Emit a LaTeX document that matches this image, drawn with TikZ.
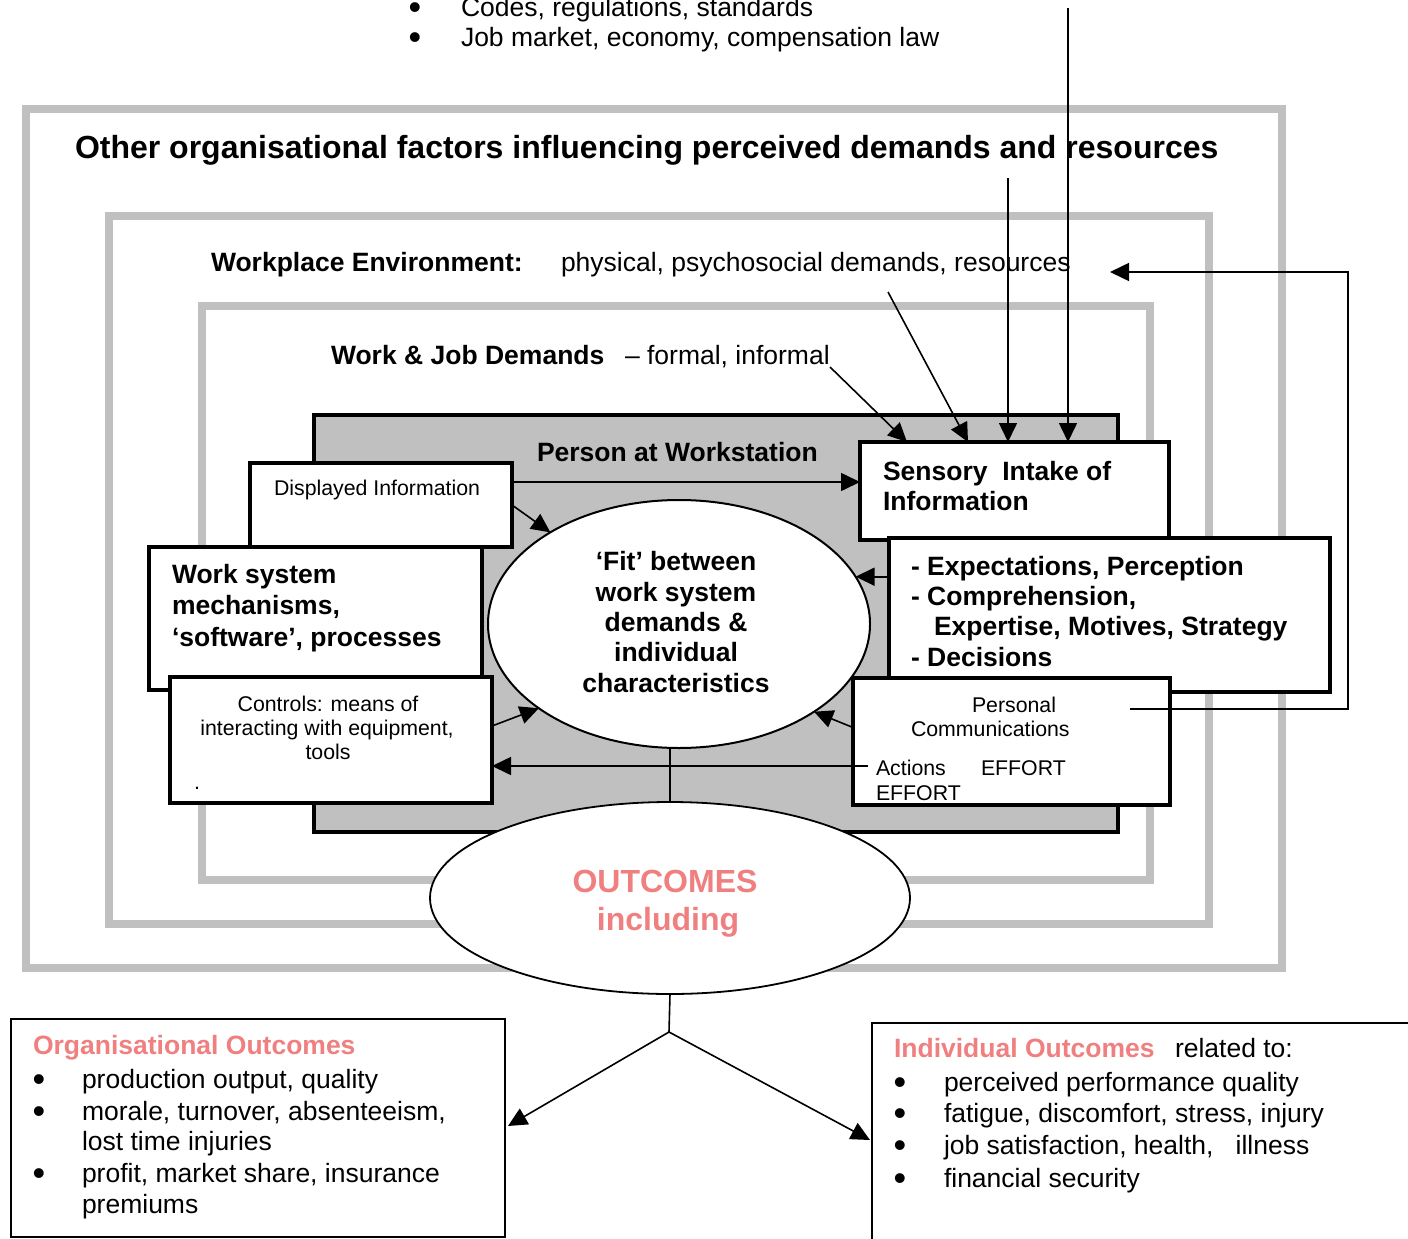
\documentclass[tikz,border=0pt]{standalone}
\usepackage{fontspec}
\setmainfont{Liberation Sans}
\usetikzlibrary{arrows.meta,shapes.geometric,calc}
\definecolor{framegray}{HTML}{C0C0C0}
\definecolor{salmon}{HTML}{F08080}
\newcommand{\szmain}{\fontsize{26.5pt}{30.5pt}\selectfont}
\newcommand{\szsmall}{\fontsize{21.3pt}{24pt}\selectfont}
\newcommand{\sztitle}{\fontsize{32pt}{36pt}\selectfont}
\newcommand{\szbullet}{\fontsize{36pt}{40pt}\selectfont}
\begin{document}
\begin{tikzpicture}[x=1pt,y=-1pt,
  frame/.style={draw=framegray,line width=8pt},
  blackbox/.style={draw=black,line width=3.2pt,fill=white,inner sep=0pt,outer sep=0pt},
  thinbox/.style={draw=black,line width=1.6pt,fill=white,inner sep=0pt,outer sep=0pt},
  oval/.style={draw=black,ellipse,line width=2pt,fill=white,inner sep=0pt,outer sep=0pt},
  txt/.style={inner sep=0pt,outer sep=0pt,anchor=base west,font=\szmain},
  btxt/.style={txt,font=\szmain\bfseries},
  stxt/.style={inner sep=0pt,outer sep=0pt,anchor=base west,font=\szsmall},
  ftxt/.style={inner sep=0pt,outer sep=0pt,anchor=base,font=\szmain\bfseries},
  bul/.style={inner sep=0pt,outer sep=0pt,anchor=base,font=\szbullet,yshift=-3pt},
  arr/.style={line width=1.6pt,-{Triangle[length=19pt,width=18pt]}},
  conn/.style={line width=1.6pt},
]
\useasboundingbox (0,0) rectangle (1408,1239);

% nested grey frames
\draw[frame] (26,109) rectangle (1282,968);
\draw[frame] (109,216) rectangle (1209,924);
\draw[frame] (202,306) rectangle (1150,880);

% person at workstation panel
\node[blackbox,fill=framegray,minimum width=804pt,minimum height=417pt] (person) at (716,623.5) {};

% left boxes
\node[blackbox,minimum width=262pt,minimum height=84pt] (disp) at (381,505) {};
\node[blackbox,minimum width=333pt,minimum height=143pt] (worksys) at (315.5,618.5) {};
\node[blackbox,minimum width=322pt,minimum height=126pt] (controls) at (331,740) {};

% right boxes
\node[blackbox,minimum width=309pt,minimum height=98pt] (sensory) at (1014.5,491) {};
\node[blackbox,minimum width=441pt,minimum height=154pt] (expect) at (1109.5,615) {};
\node[blackbox,minimum width=317pt,minimum height=127pt] (personal) at (1011.5,741.5) {};

% ellipses
\node[oval,minimum width=382pt,minimum height=248pt] (fit) at (679,624) {};
\node[oval,line width=1.8pt,minimum width=480pt,minimum height=192pt] (outc) at (670,898) {};

% outcome boxes
\node[thinbox,minimum width=494pt,minimum height=218pt] (org) at (258,1128) {};
\node[thinbox,minimum width=550pt,minimum height=222pt] (indiv) at (1147,1134) {};

% top list
\node[bul] (tb1) at (415,17) {•};
\node[txt] (tl1) at (461,17) {Codes, regulations, standards};
\node[bul] (tb2) at (415,47) {•};
\node[txt] (tl2) at (461,47) {Job market, economy, compensation law};

% frame labels
\node[txt,font=\sztitle\bfseries] (title) at (75,158) {Other organisational factors influencing perceived demands and resources};
\node[btxt] (wpe) at (211,271) {Workplace Environment:};
\node[txt] (wpe2) at (561,271) {physical, psychosocial demands, resources};
\node[btxt] (wjd) at (331,364) {Work \& Job Demands};
\node[txt] (wjd2) at (625,364) {– formal, informal};
\node[btxt] (paw) at (537,461) {Person at Workstation};

% left box texts
\node[stxt] (dispt) at (274,495) {Displayed Information};
\node[btxt] (ws1) at (172,583) {Work system};
\node[btxt] (ws2) at (172,614) {mechanisms,};
\node[btxt] (ws3) at (172,646) {‘software’, processes};
\node[stxt,anchor=base] (ct1) at (328,711) {Controls: means of};
\node[stxt,anchor=base] (ct2) at (327,735) {interacting with equipment,};
\node[stxt,anchor=base] (ct3) at (328,759) {tools};
\node[stxt] (ct4) at (194,789) {.};

% right box texts
\node[btxt] (se1) at (883,480) {Sensory\ \ Intake of};
\node[btxt] (se2) at (883,510) {Information};
\node[btxt] (ex1) at (911,575) {- Expectations, Perception};
\node[btxt] (ex2) at (911,605) {- Comprehension,};
\node[btxt] (ex3) at (934,635) {Expertise, Motives, Strategy};
\node[btxt] (ex4) at (911,666) {- Decisions};
\node[stxt] (pc1) at (972,712) {Personal};
\node[stxt] (pc2) at (911,736) {Communications};
\node[stxt] (ac1) at (876,775) {Actions};
\node[stxt] (ef1) at (981,775) {EFFORT};
\node[stxt] (ef2) at (876,800) {EFFORT};

% fit ellipse text
\node[ftxt] (fi1) at (676,570) {‘Fit’ between};
\node[ftxt] (fi2) at (676,601) {work system};
\node[ftxt] (fi3) at (676,631) {demands \&};
\node[ftxt] (fi4) at (676,661) {individual};
\node[ftxt] (fi5) at (676,692) {characteristics};

% outcomes ellipse text
\node[inner sep=0pt,anchor=base,font=\sztitle\bfseries,text=salmon] (oc1) at (665,892) {OUTCOMES};
\node[inner sep=0pt,anchor=base,font=\sztitle\bfseries,text=salmon] (oc2) at (668,930) {including};

% organisational outcomes
\node[btxt,text=salmon] (ot) at (33,1054) {Organisational Outcomes};
\node[bul] (ob1) at (39,1088) {•};
\node[txt] (ol1) at (82,1088) {production output, quality};
\node[bul] (ob2) at (39,1120) {•};
\node[txt] (ol2) at (82,1120) {morale, turnover, absenteeism,};
\node[txt] (ol3) at (82,1150) {lost time injuries};
\node[bul] (ob3) at (39,1182) {•};
\node[txt] (ol4) at (82,1182) {profit, market share, insurance};
\node[txt] (ol5) at (82,1213) {premiums};

% individual outcomes
\node[btxt,text=salmon] (it) at (894,1057) {Individual Outcomes};
\node[txt] (it2) at (1175,1057) {related to:};
\node[bul] (ib1) at (900,1091) {•};
\node[txt] (il1) at (944,1091) {perceived performance quality};
\node[bul] (ib2) at (900,1122) {•};
\node[txt] (il2) at (944,1122) {fatigue, discomfort, stress, injury};
\node[bul] (ib3) at (900,1154) {•};
\node[txt] (il3) at (944,1154) {job satisfaction, health,\ \ \ illness};
\node[bul] (ib4) at (900,1187) {•};
\node[txt] (il4) at (944,1187) {financial security};

% connector end points
\coordinate (topA) at (1068,8);
\coordinate (topB) at (1008,178);
\coordinate (infEnd) at (830,367);
\coordinate (resEnd) at (888,292);
\coordinate (tipA) at (907,0);
\coordinate (tipB) at (968,0);
\coordinate (dy) at (0,482);
\coordinate (pcStart) at (1130,709);
\coordinate (fbCorner) at (1348,272);
\coordinate (fbTip) at (1110,272);
\coordinate (act) at (868,766);
\coordinate (junc) at (669,1032);

% influences on sensory intake
\draw[arr] (topA) -- (topA |- sensory.north);
\draw[arr] (topB) -- (topB |- sensory.north);
\draw[arr] (infEnd) -- (tipA |- sensory.north);
\draw[arr] (resEnd) -- (tipB |- sensory.north);

% feedback from personal communications
\draw[arr] (pcStart) -| (fbCorner) -- (fbTip);

% flows inside the workstation
\draw[arr] (disp.east |- dy) -- (sensory.west |- dy);
\draw[arr] (disp.east) -- (fit);
\draw[arr] (expect.west |- fit.15) -- (fit.15);
\draw[arr] ($(controls.east)+(0,-14)$) -- (fit.211);
\draw[arr] ($(personal.west)+(0,-14)$) -- (fit.327);
\draw[arr] (act) -- (act -| controls.east);

% to outcomes
\draw[conn] (outc.north) -- (outc.north |- fit.south);
\draw[conn] (outc.south) -- (junc);
\draw[arr] (junc) -- ($(org.east)+(3,-2)$);
\draw[arr] (junc) -- ($(indiv.west)+(-2,6)$);
\end{tikzpicture}
\end{document}
